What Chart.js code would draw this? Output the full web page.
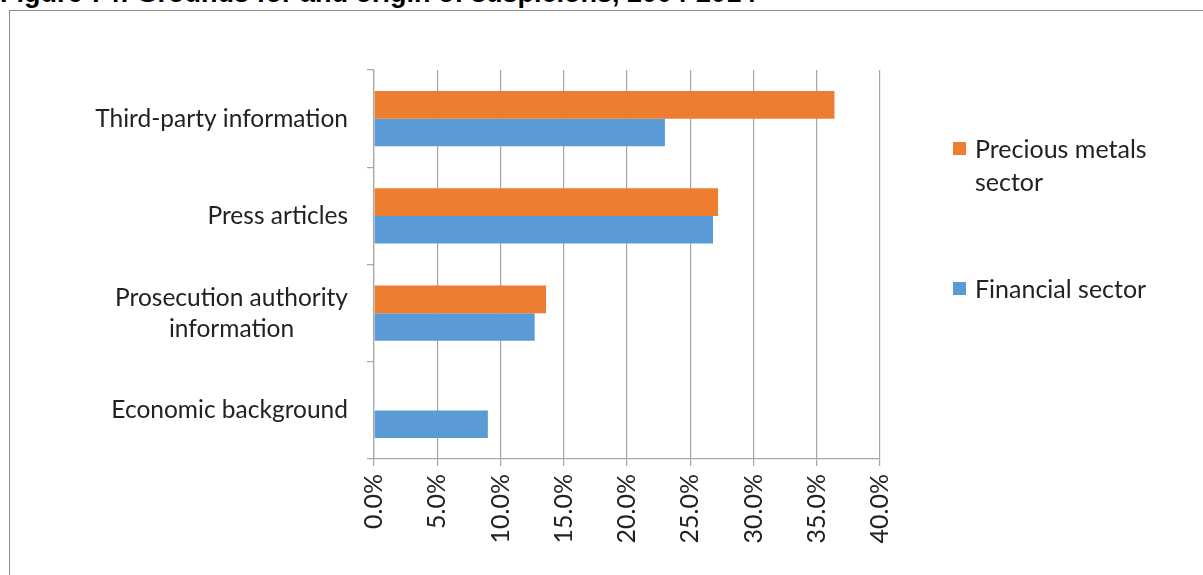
<!DOCTYPE html>
<html>
<head>
<meta charset="utf-8">
<script src="https://cdn.jsdelivr.net/npm/chart.js@4/dist/chart.umd.min.js"></script>
<style>
  body { margin: 0; background: #fff; width: 1203px; height: 575px; position: relative; overflow: hidden; }
  .title { position: absolute; left: 0; top: -20px; font: bold 27px "Liberation Sans", Arial, sans-serif; line-height: 27px; white-space: nowrap; color: #000; }
  .frame { position: absolute; left: 9px; top: 10px; width: 1300px; height: 700px; border: 1px solid #8c8c8c; }
  #chart { position: absolute; left: 0; top: 0; }
  .item { position: absolute; left: 953px; font: 25px Lato, sans-serif; line-height: 33px; color: #222; }
  .item .box { position: absolute; left: 0; top: 10px; width: 13px; height: 13px; }
  .item .txt { margin-left: 22px; width: 215px; }
</style>
</head>
<body>
<div class="title">Figure 74: Grounds for and origin of suspicions, 2004-2014</div>
<div class="frame"></div>
<canvas id="chart" width="1203" height="575"></canvas>
<div id="legend"></div>
<script>
"use strict";

// data ----------
const categories = [
  "Third-party information",
  "Press articles",
  ["Prosecution authority", "information"],
  "Economic background",
];
const preciousMetals = [36.4, 27.2, 13.6, 0];
const financialSector = [23.0, 26.8, 12.7, 9.0];
const seriesNames = ["Precious metals sector", "Financial sector"];
const xMin = 0;
const xMax = 40;
const xStep = 5;

const orange = "#ED7D31";
const blue = "#5B9BD5";
const gridGray = "#A6A6A6";
const textColor = "#222";

// category labels, centred lines like the original ----------
const yLabels = {
  id: "yLabels",
  afterDraw(chart) {
    const ctx = chart.ctx;
    const yScale = chart.scales.y;
    ctx.save();
    ctx.font = "24.5px Lato";
    ctx.fillStyle = textColor;
    ctx.textAlign = "center";
    ctx.textBaseline = "middle";
    categories.forEach((lab, i) => {
      const lines = Array.isArray(lab) ? lab : [lab];
      const w = Math.max(...lines.map((l) => ctx.measureText(l).width));
      const cx = yScale.right - 26 - w / 2;
      const cy = yScale.getPixelForTick(i);
      lines.forEach((l, j) => {
        ctx.fillText(l, cx, cy + (j - (lines.length - 1) / 2) * 31);
      });
    });
    ctx.restore();
  },
};

const ctx = document.getElementById("chart").getContext("2d");
const myChart = new Chart(ctx, {
  type: "bar",
  data: {
    labels: categories,
    datasets: [
      {
        label: seriesNames[0],
        data: preciousMetals,
        backgroundColor: orange,
        borderWidth: 0,
      },
      {
        label: seriesNames[1],
        data: financialSector,
        backgroundColor: blue,
        borderWidth: 0,
      },
    ],
  },
  options: {
    indexAxis: "y",
    responsive: false,
    animation: false,
    categoryPercentage: 0.566,
    barPercentage: 1,
    layout: { padding: { top: 70, right: 323, left: 0, bottom: 0 } },
    plugins: {
      legend: { display: false },
      tooltip: { enabled: false },
    },
    scales: {
      x: {
        min: xMin,
        max: xMax,
        afterFit: (scale) => { scale.height = 116; },
        ticks: {
          stepSize: xStep,
          minRotation: 90,
          maxRotation: 90,
          padding: 8,
          color: textColor,
          font: { family: "Lato", size: 25 },
          callback: (v) => v.toFixed(1) + "%",
        },
        grid: { color: gridGray, tickLength: 7, lineWidth: 1.2 },
        border: { color: gridGray, width: 1.2 },
      },
      y: {
        afterFit: (scale) => { scale.width = 374; },
        ticks: { display: false },
        grid: { drawOnChartArea: false, offset: true, tickLength: 7, color: gridGray, lineWidth: 1.2 },
        border: { color: gridGray, width: 1.2 },
      },
    },
  },
  plugins: [yLabels],
});

// legend ----------
const legendTops = [132, 272];
const legend = document.getElementById("legend");
myChart.data.datasets.forEach((ds, i) => {
  const item = document.createElement("div");
  item.className = "item";
  item.style.top = legendTops[i] + "px";
  item.innerHTML = `<span class="box" style="background:${ds.backgroundColor}"></span><div class="txt">${ds.label}</div>`;
  legend.appendChild(item);
});
</script>
</body>
</html>
